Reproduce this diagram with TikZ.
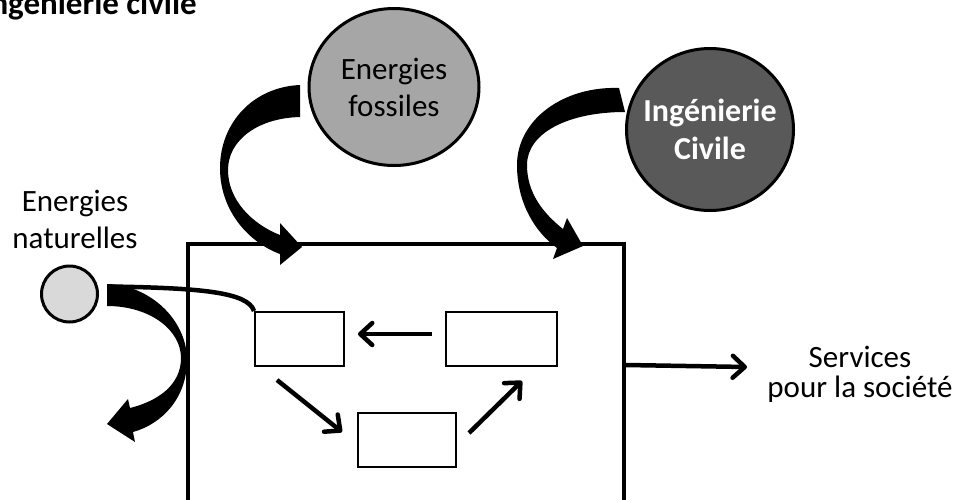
\documentclass[tikz,border=0pt]{standalone}
\usepackage{fontspec}
\setmainfont{Carlito}
\usetikzlibrary{arrows.meta,shapes.geometric,calc}
\definecolor{fossilgray}{HTML}{A6A6A6}
\definecolor{civilgray}{HTML}{595959}
\definecolor{natgray}{HTML}{D9D9D9}
\begin{document}
\begin{tikzpicture}[x=1pt,y=-1pt,
  circ/.style={ellipse, draw=black, line width=3pt, inner sep=0pt},
  txt/.style={font=\fontsize{31}{37}\selectfont, align=center, inner sep=0pt},
  smallbox/.style={draw=black, line width=2pt, minimum height=54pt, inner sep=0pt},
  flow/.style={line width=4.5pt, -{Straight Barb[length=12pt,width=22pt,round]}},
  bigarrow/.style={fill=black}]
\useasboundingbox (0,0) rectangle (964,499);

% title (cut at the left edge as in the picture)
\node[font=\fontsize{33}{40}\selectfont\bfseries, anchor=base east, inner sep=0pt] (title) at (197,14) {Ingénierie civile};

% system frame
\node[draw=black, line width=4pt, minimum width=436pt, minimum height=316pt, inner sep=0pt] (sys) at (406,402) {};

% inner boxes
\node[smallbox, minimum width=89pt] (box1) at (299.5,339) {};
\node[smallbox, minimum width=111pt] (box2) at (501.5,339) {};
\node[smallbox, minimum width=98pt] (box3) at (407,440) {};

% circles
\node[circ, fill=fossilgray, minimum width=170pt, minimum height=157pt,
  label={[txt]center:Energies\\fossiles}] (fossil) at (394,87) {};
\node[circ, fill=civilgray, minimum width=167pt, minimum height=162pt,
  label={[txt, text=white, font=\fontsize{32}{38}\selectfont\bfseries]center:Ingénierie\\Civile}] (civil) at (710,129.5) {};
\node[circ, fill=natgray, minimum width=56pt, minimum height=56pt] (nat) at (69.5,294) {};
\node[txt] (natlabel) at (75,219) {Energies\\naturelles};

% services
\node[txt, font=\fontsize{31}{30}\selectfont] (serv) at (860,374) {Services\\pour la société};
\coordinate (servtip) at (747,367);

% thin link from natural energies to the first box
\draw[line width=4.5pt] (110,286.5) .. controls (200,288) and (248,292) .. (box1.north west);

% big curved arrows
\fill[bigarrow] (300,85) .. controls (253,87) and (220,123) .. (220,168)
  .. controls (220,212) and (250,243) .. (280,254) -- (280,265) -- (302,247) -- (280,223) -- (280,235)
  .. controls (252,224) and (228,200) .. (228,170)
  .. controls (228,140) and (258,118) .. (300,117) -- cycle;
\fill[bigarrow] (619,88) .. controls (563,86) and (517,120) .. (517,165)
  .. controls (517,203) and (535,232) .. (557,248) -- (553,259) -- (583,246) -- (567,218) -- (563,229)
  .. controls (543,213) and (527,193) .. (527,165)
  .. controls (527,133) and (568,112) .. (625,112) -- cycle;
\fill[bigarrow] (107,284) .. controls (150,285) and (187,320) .. (187,360)
  .. controls (187,398) and (162,424) .. (133,432) -- (135,442) -- (107,424) -- (128,399) -- (130,408)
  .. controls (158,401) and (181,385) .. (181,358)
  .. controls (181,330) and (150,306) .. (107,306) -- cycle;

% flows between boxes
\draw[flow] ($(box2.west)+(-13,-5)$) -- ($(box1.east)+(13,-5)$);
\draw[flow] ($(box1.south west)+(23,13)$) -- ($(box3.north west)+(-15,20)$);
\draw[flow] ($(box3.north east)+(12,21)$) -- ($(box2.south west)+(77,14)$);
\draw[flow] ($(sys.north east)+(0,123)$) -- (servtip);
\end{tikzpicture}
\end{document}
